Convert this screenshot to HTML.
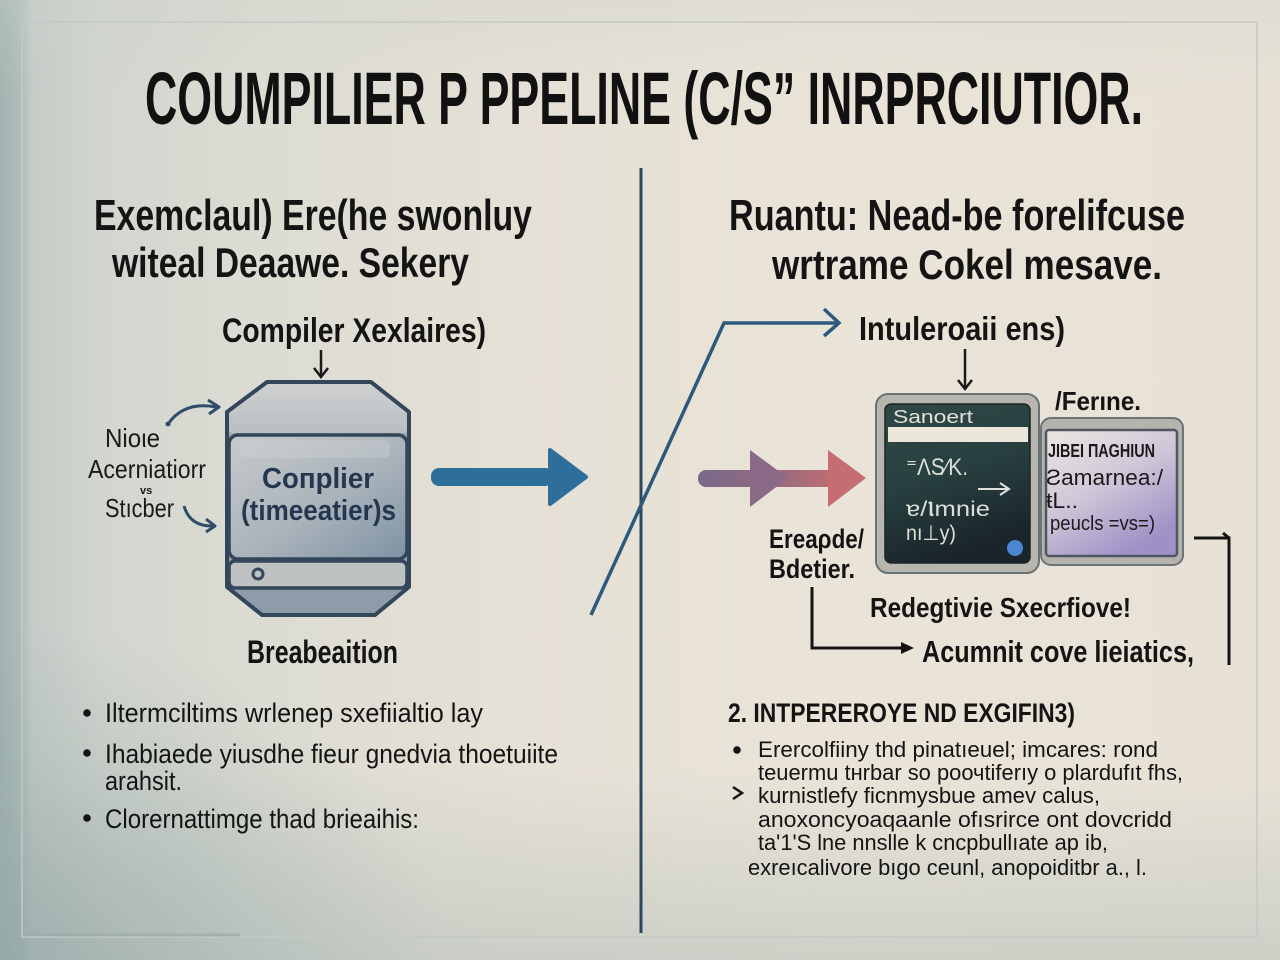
<!DOCTYPE html>
<html>
<head>
<meta charset="utf-8">
<style>
  html,body{margin:0;padding:0;background:#e9e3d7;}
  svg{display:block;}
  text{font-family:"Liberation Sans","DejaVu Sans",sans-serif;}
</style>
</head>
<body>
<svg width="1280" height="960" viewBox="0 0 1280 960" xmlns="http://www.w3.org/2000/svg">
  <defs>
    <linearGradient id="bgH" x1="0" y1="0" x2="1" y2="0">
      <stop offset="0" stop-color="#a2b4b1"/>
      <stop offset="0.017" stop-color="#afbdba"/>
      <stop offset="0.025" stop-color="#c5ccc7"/>
      <stop offset="0.08" stop-color="#d2d6cf"/>
      <stop offset="0.2" stop-color="#dcdcd3"/>
      <stop offset="0.4" stop-color="#e5e0d5"/>
      <stop offset="0.65" stop-color="#eae4d8"/>
      <stop offset="1" stop-color="#e8e2d6"/>
    </linearGradient>
    <linearGradient id="vigB" x1="0" y1="0" x2="0" y2="1">
      <stop offset="0.8" stop-color="#a9b7b3" stop-opacity="0"/>
      <stop offset="1" stop-color="#a3b3b0" stop-opacity="0.4"/>
    </linearGradient>
    <radialGradient id="vigBL" cx="0" cy="1" r="0.35">
      <stop offset="0" stop-color="#8aa0a0" stop-opacity="0.55"/>
      <stop offset="1" stop-color="#8aa0a0" stop-opacity="0"/>
    </radialGradient>
    <linearGradient id="vigT" x1="0" y1="0" x2="0" y2="1">
      <stop offset="0" stop-color="#cdd1cb" stop-opacity="0.35"/>
      <stop offset="0.1" stop-color="#cdd1cb" stop-opacity="0"/>
    </linearGradient>
    <linearGradient id="barrelBody" x1="0" y1="0" x2="1" y2="1">
      <stop offset="0" stop-color="#c7cacb"/>
      <stop offset="0.55" stop-color="#a9b3ba"/>
      <stop offset="1" stop-color="#7f92a4"/>
    </linearGradient>
    <linearGradient id="barrelTop" x1="0" y1="0" x2="0" y2="1">
      <stop offset="0" stop-color="#cfd1d1"/>
      <stop offset="1" stop-color="#b8bdc0"/>
    </linearGradient>
    <linearGradient id="barrelBot" x1="0" y1="0" x2="0" y2="1">
      <stop offset="0" stop-color="#a5aeb6"/>
      <stop offset="1" stop-color="#8d9aa8"/>
    </linearGradient>
    <linearGradient id="redArrow" x1="0" y1="0" x2="1" y2="0">
      <stop offset="0" stop-color="#78698c"/>
      <stop offset="0.45" stop-color="#92697f"/>
      <stop offset="1" stop-color="#c76f72"/>
    </linearGradient>
    <linearGradient id="darkScreen" x1="0" y1="0" x2="0.3" y2="1">
      <stop offset="0" stop-color="#2f4846"/>
      <stop offset="0.5" stop-color="#28403f"/>
      <stop offset="1" stop-color="#1a252b"/>
    </linearGradient>
    <linearGradient id="lavender" x1="0" y1="0" x2="0.6" y2="1">
      <stop offset="0" stop-color="#ece7e2"/>
      <stop offset="0.5" stop-color="#d0c8d8"/>
      <stop offset="1" stop-color="#9f90c6"/>
    </linearGradient>
  </defs>

  <!-- Background -->
  <rect x="0" y="0" width="1280" height="960" fill="url(#bgH)"/>
  <rect x="0" y="0" width="1280" height="960" fill="url(#vigT)"/>
  <rect x="0" y="0" width="1280" height="960" fill="url(#vigB)"/>
  <rect x="0" y="0" width="1280" height="960" fill="url(#vigBL)"/>

  <!-- Frame -->
  <rect x="22" y="22" width="1235" height="915" fill="none" stroke="#c3c9c4" stroke-width="1.5"/>
  <line x1="26" y1="935" x2="240" y2="935" stroke="#9eaaa8" stroke-width="3" opacity="0.7"/>

  <!-- Divider -->
  <line x1="641" y1="168" x2="641" y2="933" stroke="#2b4862" stroke-width="3"/>

  <!-- Title -->
  <text x="145" y="124" font-size="74" font-weight="bold" fill="#111" textLength="998" lengthAdjust="spacingAndGlyphs">COUMPILIER P PPELINE (C/S” INRPRCIUTIOR.</text>

  <!-- Left heading -->
  <text x="94" y="230" font-size="44" font-weight="bold" fill="#141414" textLength="438" lengthAdjust="spacingAndGlyphs">Exemclaul) Ere(he swonluy</text>
  <text x="112" y="277" font-size="42" font-weight="bold" fill="#141414" textLength="357" lengthAdjust="spacingAndGlyphs">witeal Deaawe. Sekery</text>

  <!-- Right heading -->
  <text x="729" y="230" font-size="44" font-weight="bold" fill="#141414" textLength="456" lengthAdjust="spacingAndGlyphs">Ruantu: Nead-be forelifcuse</text>
  <text x="772" y="279" font-size="42" font-weight="bold" fill="#141414" textLength="390" lengthAdjust="spacingAndGlyphs">wrtrame Cokel mesave.</text>

  <!-- LEFT DIAGRAM -->
  <text x="222" y="342" font-size="34" font-weight="bold" fill="#141414" textLength="264" lengthAdjust="spacingAndGlyphs">Compiler Xexlaires)</text>
  <line x1="321" y1="350" x2="321" y2="376" stroke="#1a1a1a" stroke-width="2.5"/>
  <polyline points="314,368 321,377 328,368" fill="none" stroke="#1a1a1a" stroke-width="2.5"/>

  <!-- Barrel -->
  <path d="M267,382 L371,382 L409,412 L409,587 L375,615 L262,615 L227,587 L227,412 Z" fill="url(#barrelBot)" stroke="#33465a" stroke-width="4" stroke-linejoin="round"/>
  <path d="M268,384 L370,384 L407,413 L407,430 Q407,433 403,433 L233,433 Q229,433 229,430 L229,413 Z" fill="url(#barrelTop)"/>
  <rect x="229" y="435" width="178" height="124" rx="9" fill="url(#barrelBody)" stroke="#33465a" stroke-width="3.5"/>
  <rect x="240" y="440" width="150" height="18" rx="6" fill="#d2d5d6" opacity="0.35"/>
  <rect x="229" y="561" width="178" height="27" rx="6" fill="#bdc1c2" stroke="#33465a" stroke-width="3.5"/>
  <circle cx="258" cy="574" r="5" fill="none" stroke="#33465a" stroke-width="3"/>
  <text x="262" y="488" font-size="29" font-weight="bold" fill="#25374f" textLength="112" lengthAdjust="spacingAndGlyphs">Coпplier</text>
  <text x="241" y="520" font-size="29" font-weight="bold" fill="#25374f" textLength="155" lengthAdjust="spacingAndGlyphs">(timeeatier)s</text>

  <!-- Left labels -->
  <text x="105" y="447" font-size="26" fill="#1a1a1a" textLength="55" lengthAdjust="spacingAndGlyphs">Nioιe</text>
  <text x="88" y="478" font-size="26" fill="#1a1a1a" textLength="118" lengthAdjust="spacingAndGlyphs">Acerniatiorr</text>
  <text x="140" y="494" font-size="11" font-weight="bold" fill="#1a1a1a">vs</text>
  <text x="105" y="517" font-size="26" fill="#1a1a1a" textLength="69" lengthAdjust="spacingAndGlyphs">Stıcber</text>

  <!-- Curved arrows -->
  <path d="M168,424 Q184,401 216,407" fill="none" stroke="#2d4d68" stroke-width="3"/>
  <circle cx="168" cy="424" r="2.5" fill="#2d4d68"/>
  <polyline points="208,400 219,407 209,414" fill="none" stroke="#2d4d68" stroke-width="3" stroke-linejoin="round"/>
  <path d="M184,506 Q190,527 214,526" fill="none" stroke="#2d4d68" stroke-width="3"/>
  <polyline points="206,519 215,526 206,532" fill="none" stroke="#2d4d68" stroke-width="3" stroke-linejoin="round"/>

  <!-- Blue arrow -->
  <rect x="431" y="468" width="122" height="18" rx="8" fill="#2e6e9b"/>
  <polygon points="550,450 586,477 550,504" fill="#2e6e9b" stroke="#2e6e9b" stroke-width="4" stroke-linejoin="round"/>

  <text x="247" y="663" font-size="32" font-weight="bold" fill="#141414" textLength="151" lengthAdjust="spacingAndGlyphs">Breabeaition</text>

  <!-- Slanted connector -->
  <polyline points="591,615 724,323 838,323" fill="none" stroke="#2d5a7c" stroke-width="3.5" stroke-linejoin="miter"/>
  <polyline points="824,309 839,323 824,336" fill="none" stroke="#2d5a7c" stroke-width="3.5"/>

  <!-- Left bullets -->
  <circle cx="87" cy="713" r="3.8" fill="#141414"/>
  <text x="105" y="722" font-size="27" fill="#141414" textLength="378" lengthAdjust="spacingAndGlyphs">Iltermciltims wrlenep sxefiialtio lay</text>
  <circle cx="87" cy="753" r="3.8" fill="#141414"/>
  <text x="105" y="763" font-size="27" fill="#141414" textLength="453" lengthAdjust="spacingAndGlyphs">Ihabiaede yiusdhe fieur gnedvia thoetuiite</text>
  <text x="105" y="790" font-size="27" fill="#141414" textLength="77" lengthAdjust="spacingAndGlyphs">arahsit.</text>
  <circle cx="87" cy="818" r="3.8" fill="#141414"/>
  <text x="105" y="828" font-size="27" fill="#141414" textLength="314" lengthAdjust="spacingAndGlyphs">Clorernattimge thad brieaihis:</text>

  <!-- RIGHT DIAGRAM -->
  <text x="859" y="340" font-size="33" font-weight="bold" fill="#141414" textLength="206" lengthAdjust="spacingAndGlyphs">Intuleroaii ens)</text>
  <line x1="965" y1="349" x2="965" y2="388" stroke="#1a1a1a" stroke-width="2.5"/>
  <polyline points="958,380 965,389 972,380" fill="none" stroke="#1a1a1a" stroke-width="2.5"/>

  <!-- Red double arrow -->
  <rect x="698" y="470" width="152" height="17" rx="8" fill="url(#redArrow)"/>
  <polygon points="750,450 788,478 750,507" fill="#8a6a86"/>
  <polygon points="828,450 866,478 828,507" fill="#c46e73"/>

  <!-- Second (lavender) box -->
  <rect x="1041" y="418" width="142" height="147" rx="10" fill="#b4b4ae" stroke="#6d7376" stroke-width="2"/>
  <rect x="1046" y="430" width="131" height="126" rx="3" fill="url(#lavender)" stroke="#4f5662" stroke-width="2.5"/>
  <text x="1048" y="457" font-size="18" font-weight="bold" fill="#1a1a1a" textLength="107" lengthAdjust="spacingAndGlyphs">JIBEI ПAGHIUN</text>
  <text x="1046" y="485" font-size="22" fill="#1a1a1a" textLength="117" lengthAdjust="spacingAndGlyphs">Ƨamarnea:/</text>
  <text x="1046" y="508" font-size="22" fill="#1a1a1a" textLength="32" lengthAdjust="spacingAndGlyphs">ŧL..</text>
  <text x="1050" y="530" font-size="20" fill="#1a1a1a" textLength="105" lengthAdjust="spacingAndGlyphs">peucls =vs=)</text>

  <!-- Dark screen box -->
  <rect x="876" y="394" width="163" height="179" rx="12" fill="#b6b5ae" stroke="#6b7273" stroke-width="2"/>
  <rect x="885" y="404" width="145" height="159" rx="6" fill="url(#darkScreen)" stroke="#1d2326" stroke-width="1.5"/>
  <text x="893" y="423" font-size="18" fill="#e3e2da" textLength="80" lengthAdjust="spacingAndGlyphs">Sanoert</text>
  <rect x="888" y="427" width="140" height="15" fill="#ebe7db"/>
  <text x="906" y="475" font-size="24" fill="#dcded8" textLength="62" lengthAdjust="spacingAndGlyphs">⁼ΛS⁄K.</text>
  <line x1="978" y1="489" x2="1008" y2="489" stroke="#e0e0da" stroke-width="2"/>
  <polyline points="1000,483 1009,489 1000,495" fill="none" stroke="#e0e0da" stroke-width="2"/>
  <text x="906" y="516" font-size="21" fill="#dcded8" textLength="84" lengthAdjust="spacingAndGlyphs">ɐ/Ⲓmnie</text>
  <text x="906" y="540" font-size="21" fill="#dcded8" textLength="50" lengthAdjust="spacingAndGlyphs">nı⊥y)</text>
  <circle cx="1015" cy="548" r="8" fill="#4b86d2"/>

  <text x="1055" y="410" font-size="26" font-weight="bold" fill="#141414" textLength="86" lengthAdjust="spacingAndGlyphs">/Ferıne.</text>

  <text x="769" y="548" font-size="27" font-weight="bold" fill="#141414" textLength="95" lengthAdjust="spacingAndGlyphs">Ereaρde/</text>
  <text x="769" y="578" font-size="27" font-weight="bold" fill="#141414" textLength="86" lengthAdjust="spacingAndGlyphs">Bdetier.</text>

  <!-- Black connector -->
  <polyline points="812,587 812,648 911,648" fill="none" stroke="#141414" stroke-width="3"/>
  <polygon points="901,642 914,648 901,654" fill="#141414"/>

  <text x="870" y="617" font-size="28" font-weight="bold" fill="#141414" textLength="261" lengthAdjust="spacingAndGlyphs">Redegtivie Sxecrfiove!</text>
  <text x="922" y="662" font-size="31" font-weight="bold" fill="#141414" textLength="272" lengthAdjust="spacingAndGlyphs">Acumnit cove lieiatics,</text>

  <!-- Right connector -->
  <polyline points="1194,538 1229,538 1229,665" fill="none" stroke="#141414" stroke-width="3"/>
  <polyline points="1223,533 1229,538" fill="none" stroke="#141414" stroke-width="3"/>

  <!-- Right bottom section -->
  <text x="728" y="722" font-size="27" font-weight="bold" fill="#141414" textLength="347" lengthAdjust="spacingAndGlyphs">2. INTPEREROYE ND EXGIFIN3)</text>
  <circle cx="737" cy="750" r="3.8" fill="#141414"/>
  <text x="758" y="757" font-size="22" fill="#141414" textLength="400" lengthAdjust="spacingAndGlyphs">Ererсolfiiny thd pinatıeuel; imcares: rond</text>
  <text x="758" y="780" font-size="22" fill="#141414" textLength="425" lengthAdjust="spacingAndGlyphs">teuermu tнrbar so poочtiferıy o plardufıt fhs,</text>
  <polyline points="733,787 742,793 733,799" fill="none" stroke="#141414" stroke-width="2.5"/>
  <text x="758" y="803" font-size="22" fill="#141414" textLength="342" lengthAdjust="spacingAndGlyphs">kurnistlefy ficnmysbue amev calus,</text>
  <text x="758" y="827" font-size="22" fill="#141414" textLength="414" lengthAdjust="spacingAndGlyphs">anoxoncyoaqaanle ofısrirce ont dovcridd</text>
  <text x="758" y="850" font-size="22" fill="#141414" textLength="350" lengthAdjust="spacingAndGlyphs">ta'1'S lne nnslle k cncpbullıate ap ib,</text>
  <text x="748" y="875" font-size="22" fill="#141414" textLength="399" lengthAdjust="spacingAndGlyphs">exreıcalivore bıgo ceunl, anopoiditbr a.,  l.</text>
</svg>
</body>
</html>
